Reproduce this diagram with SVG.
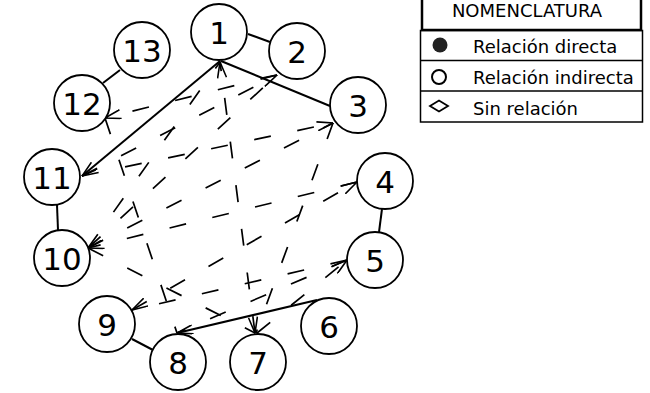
<svg xmlns="http://www.w3.org/2000/svg" width="650" height="393" viewBox="0 0 650 393">
<style>
.node circle{fill:#fff;stroke:#000;stroke-width:1.8}
.node text{font-family:"DejaVu Sans",Verdana,sans-serif;font-size:31px;text-anchor:middle;fill:#000}
.solid{stroke:#000;stroke-width:2;fill:none}
.dash{stroke:#000;stroke-width:1.7;stroke-dasharray:17 27;fill:none}
.lg{font-family:"DejaVu Sans",Verdana,sans-serif;font-size:18px;fill:#000}
</style>
<defs>
<marker id="ah" viewBox="0 0 17 10" refX="16.5" refY="5" markerWidth="17" markerHeight="10" markerUnits="userSpaceOnUse" orient="auto-start-reverse">
<path d="M0.5,0.5 L16.5,5 L0.5,9.5" fill="none" stroke="#000" stroke-width="1.6" stroke-dasharray="none"/>
</marker>
</defs>
<rect width="650" height="393" fill="#fff"/>
<g id="connectors">
<line class="solid" x1="248" y1="34" x2="270" y2="42"/>
<line class="solid" x1="221" y1="61" x2="330" y2="106"/>
<line class="solid" x1="220" y1="61" x2="82" y2="176" marker-end="url(#ah)"/>
<line class="solid" x1="103" y1="83" x2="120" y2="70"/>
<line class="solid" x1="57" y1="205" x2="58" y2="230"/>
<line class="solid" x1="382" y1="209" x2="379" y2="232"/>
<line class="solid" x1="132" y1="339" x2="153" y2="350"/>
<line class="solid" x1="317" y1="300" x2="177" y2="333" marker-end="url(#ah)"/>
<line class="dash" x1="255" y1="333" x2="220" y2="62" marker-start="url(#ah)" marker-end="url(#ah)"/>
<line class="dash" x1="277" y1="75" x2="105" y2="118" marker-end="url(#ah)"/>
<line class="dash" x1="82" y1="176" x2="277" y2="75" marker-end="url(#ah)"/>
<line class="dash" x1="88" y1="248" x2="277" y2="75"/>
<line class="dash" x1="88" y1="248" x2="220" y2="62"/>
<line class="dash" x1="82" y1="176" x2="333" y2="123" marker-end="url(#ah)"/>
<line class="dash" x1="88" y1="248" x2="333" y2="123"/>
<line class="dash" x1="357" y1="182" x2="88" y2="248" marker-end="url(#ah)"/>
<line class="dash" x1="132" y1="310" x2="357" y2="182" marker-start="url(#ah)" marker-end="url(#ah)"/>
<line class="dash" x1="333" y1="123" x2="256" y2="333"/>
<line class="dash" x1="257" y1="333" x2="347" y2="260" marker-end="url(#ah)"/>
<line class="dash" x1="105" y1="118" x2="177" y2="333"/>
<line class="dash" x1="88" y1="248" x2="255" y2="333"/>
<line class="dash" x1="347" y1="260" x2="132" y2="310"/>
<line class="dash" x1="347" y1="260" x2="177" y2="333"/>
</g>
<g id="n1" class="node"><circle cx="219" cy="32" r="28"/><text x="219" y="43.5">1</text></g>
<g id="n2" class="node"><circle cx="297" cy="51" r="28"/><text x="297" y="62.5">2</text></g>
<g id="n3" class="node"><circle cx="358" cy="105" r="28"/><text x="358" y="116.5">3</text></g>
<g id="n4" class="node"><circle cx="385" cy="181" r="28"/><text x="385" y="192.5">4</text></g>
<g id="n5" class="node"><circle cx="375" cy="260" r="28"/><text x="375" y="271.5">5</text></g>
<g id="n6" class="node"><circle cx="329" cy="326" r="28"/><text x="329" y="337.5">6</text></g>
<g id="n7" class="node"><circle cx="258" cy="362" r="28"/><text x="258" y="373.5">7</text></g>
<g id="n8" class="node"><circle cx="178" cy="362" r="28"/><text x="178" y="373.5">8</text></g>
<g id="n9" class="node"><circle cx="107" cy="324" r="28"/><text x="107" y="335.5">9</text></g>
<g id="n10" class="node"><circle cx="62" cy="258" r="28"/><text x="62" y="269.5">10</text></g>
<g id="n11" class="node"><circle cx="52" cy="177" r="28"/><text x="52" y="188.5">11</text></g>
<g id="n12" class="node"><circle cx="82" cy="103" r="28"/><text x="82" y="114.5">12</text></g>
<g id="n13" class="node"><circle cx="142" cy="50" r="28"/><text x="142" y="61.5">13</text></g>
<g id="legend">
<rect x="422" y="-10" width="219" height="40" fill="#fff" stroke="#000" stroke-width="2.5"/>
<text class="lg" x="527" y="17" text-anchor="middle" font-size="16.5">NOMENCLATURA</text>
<rect x="420.5" y="30.5" width="222" height="91.5" fill="none" stroke="#000" stroke-width="1.5"/>
<line x1="420.5" y1="60.5" x2="642.5" y2="60.5" stroke="#000" stroke-width="1.5"/>
<line x1="420.5" y1="91" x2="642.5" y2="91" stroke="#000" stroke-width="1.5"/>
<circle cx="440" cy="45" r="7.5" fill="#222"/>
<circle cx="439" cy="77" r="7" fill="none" stroke="#000" stroke-width="2"/>
<polygon points="430,106 439,100.5 448,106 439,111.5" fill="none" stroke="#000" stroke-width="1.8"/>
<text class="lg" x="473" y="53">Relación directa</text>
<text class="lg" x="473" y="84">Relación indirecta</text>
<text class="lg" x="473" y="115">Sin relación</text>
</g>
</svg>
